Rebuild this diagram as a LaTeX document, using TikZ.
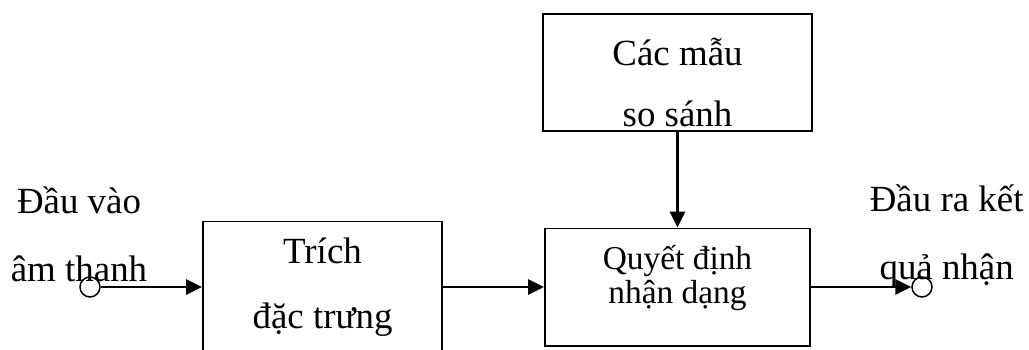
\documentclass[tikz,border=0pt]{standalone}
\usepackage{fontspec}
\setmainfont{Liberation Serif}
\usepackage{tikz}
\usetikzlibrary{positioning,arrows.meta}

\begin{document}
\begin{tikzpicture}[
  block/.style={draw,line width=1.7pt,align=center,inner sep=0pt},
  port/.style={draw,circle,line width=1.3pt,minimum size=0.6cm,inner sep=0pt},
  sig/.style={line width=2.4pt,-{Triangle[length=0.48cm,width=0.45cm]}},
  lbl/.style={align=center,font=\fontsize{31.5}{58}\selectfont}]
  \useasboundingbox (0,0) rectangle (30.87,10.47);
  \clip (0,0) rectangle (30.87,10.47);
  % khoi
  \node[block,minimum width=7.17cm,minimum height=3.93cm,
        font=\fontsize{31.5}{55}\selectfont] (feat) at (9.675,1.86) {Trích\\đặc trưng};
  \node[block,minimum width=7.95cm,minimum height=3.51cm,
        font=\fontsize{28.5}{29.5}\selectfont] (dec) at (20.325,1.86)
        {Quyết định\\nhận dạng\rule[-0.75cm]{0pt}{0pt}};
  \node[block,minimum width=8.07cm,minimum height=3.51cm,
        font=\fontsize{31.5}{52}\selectfont] (cmp) at (20.325,8.295)
        {\rule{0pt}{1.4cm}Các mẫu\\so sánh};
  % vao / ra
  \node[port] (in)  at (2.7,1.86) {};
  \node[port] (out) at (27.66,1.86) {};
  \node[lbl] (inlbl)  at (2.37,3.45) {Đầu vào\\âm thanh};
  \node[lbl] (outlbl) at (28.4,3.38) {Đầu ra kết\\quả nhận};
  % mui ten
  \draw[sig] (in) -- (feat);
  \draw[sig] (feat) -- (dec);
  \draw[sig] (cmp) -- (dec);
  \draw[sig] (dec) -- (out);
\end{tikzpicture}
\end{document}
